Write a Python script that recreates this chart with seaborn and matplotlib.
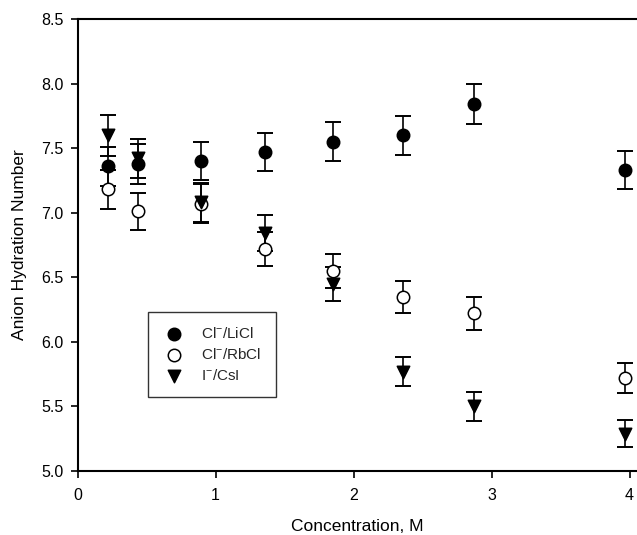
import matplotlib
matplotlib.use("Agg")
import matplotlib.pyplot as plt
import seaborn as sns
import pandas as pd
import numpy as np

# ---- data ----
concentration = [0.22, 0.44, 0.895, 1.36, 1.854, 2.356, 2.875, 3.97]
licl_values = [7.36, 7.38, 7.40, 7.47, 7.55, 7.60, 7.84, 7.33]
licl_errors = [0.15, 0.155, 0.15, 0.15, 0.15, 0.15, 0.155, 0.147]
rbcl_values = [7.18, 7.01, 7.07, 6.72, 6.55, 6.35, 6.22, 5.72]
rbcl_errors = [0.15, 0.14, 0.15, 0.13, 0.13, 0.125, 0.125, 0.115]
csi_values = [7.60, 7.42, 7.08, 6.84, 6.45, 5.77, 5.50, 5.29]
csi_errors = [0.16, 0.15, 0.15, 0.14, 0.13, 0.115, 0.11, 0.105]
series_labels = ["Cl$^{-}$/LiCl", "Cl$^{-}$/RbCl", "I$^{-}$/CsI"]
x_ticks = [0, 1, 2, 3, 4]
y_ticks = [5.0, 5.5, 6.0, 6.5, 7.0, 7.5, 8.0, 8.5]

sns.set_theme(style="white")
plt.rcParams["font.family"] = ["Liberation Sans", "DejaVu Sans"]
plt.rcParams["mathtext.fontset"] = "custom"
plt.rcParams["mathtext.rm"] = "Liberation Sans"
plt.rcParams["mathtext.it"] = "Liberation Sans"

frames = []
for lab, vals, errs in zip(series_labels,
                           [licl_values, rbcl_values, csi_values],
                           [licl_errors, rbcl_errors, csi_errors]):
    frames.append(pd.DataFrame({"conc": concentration, "value": vals,
                                "err": errs, "series": lab}))
df = pd.concat(frames, ignore_index=True)

fig = plt.figure(figsize=(6.37, 5.35), dpi=100)
ax = fig.add_axes([77.5 / 637, 64 / 535, 1 - 77.5 / 637, (471 - 19) / 535])

styles = {
    series_labels[0]: dict(marker="o", facecolor="black", s=80),
    series_labels[1]: dict(marker="o", facecolor="white", s=80),
    series_labels[2]: dict(marker="v", facecolor="black", s=80),
}

for lab in series_labels:
    sub = df[df["series"] == lab]
    ax.errorbar(sub["conc"], sub["value"], yerr=sub["err"], fmt="none",
                ecolor="black", elinewidth=1.2, capsize=5.5, capthick=1.4,
                zorder=2)
for lab in series_labels:
    sub = df[df["series"] == lab]
    st = styles[lab]
    sns.scatterplot(data=sub, x="conc", y="value", ax=ax, marker=st["marker"],
                    color=st["facecolor"], edgecolor="black", linewidth=1.1,
                    s=st["s"], label=lab, zorder=3)

ax.set_xlim(0, 4.054)
ax.set_ylim(5.0, 8.5)
ax.set_xticks(x_ticks)
ax.set_xticklabels([str(t) for t in x_ticks])
ax.set_yticks(y_ticks)
ax.set_yticklabels([f"{t:.1f}" for t in y_ticks])

for side in ["left", "bottom", "top"]:
    ax.spines[side].set_visible(True)
    ax.spines[side].set_color("black")
    ax.spines[side].set_linewidth(1.5)
ax.spines["right"].set_visible(False)

ax.tick_params(axis="both", which="major", direction="out", length=5,
               width=1.2, color="black", labelsize=11.5, labelcolor="black",
               left=True, bottom=True, top=False, right=False)
ax.tick_params(axis="y", pad=5)
ax.tick_params(axis="x", pad=7)

ax.set_xlabel("Concentration, M", fontsize=12.5, color="black", labelpad=12)
ax.set_ylabel("Anion Hydration Number", fontsize=12.5, color="black", labelpad=10)

leg = ax.legend(loc="upper left", bbox_to_anchor=((148 - 77.5) / (637 - 77.5),
                                                   (471 - 312) / (471 - 19)),
                frameon=True, fancybox=False, fontsize=11,
                handletextpad=1.0, borderpad=0.9, labelspacing=0.4,
                borderaxespad=0, handlelength=1.6)
leg.get_frame().set_edgecolor("black")
leg.get_frame().set_linewidth(1.0)
leg.get_frame().set_facecolor("white")

fig.savefig("out.png", dpi=100)
